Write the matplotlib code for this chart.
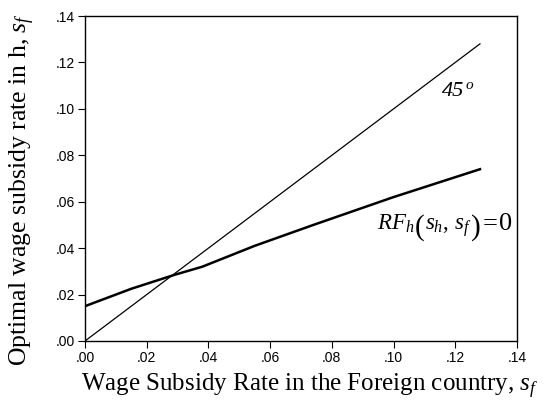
import matplotlib
matplotlib.use('Agg')
import matplotlib.pyplot as plt
from matplotlib.transforms import offset_copy

# data
sf_vals = [0.0, 0.015, 0.029, 0.038, 0.055, 0.074, 0.100, 0.128]
rf_vals = [0.015, 0.0225, 0.0285, 0.032, 0.041, 0.050, 0.062, 0.074]
diag_x = [0.0, 0.128]
diag_y = [0.0, 0.128]
tick_vals = [0.00, 0.02, 0.04, 0.06, 0.08, 0.10, 0.12, 0.14]
tick_labels = ['.00', '.02', '.04', '.06', '.08', '.10', '.12', '.14']

plt.rcParams['mathtext.fontset'] = 'custom'
plt.rcParams['mathtext.rm'] = 'Liberation Serif'
plt.rcParams['mathtext.it'] = 'Liberation Serif:italic'

fig = plt.figure(figsize=(5.49, 4.01), dpi=100)
ax = fig.add_axes([85 / 549, 60 / 401, 432 / 549, 325 / 401])

ax.plot(diag_x, diag_y, color='black', lw=0.9)
ax.plot(sf_vals, rf_vals, color='black', lw=1.8)

ax.set_xlim(0, 0.14)
ax.set_ylim(0, 0.14)
ax.set_xticks(tick_vals)
ax.set_xticklabels(tick_labels)
ax.set_yticks(tick_vals)
ax.set_yticklabels(tick_labels)
ax.tick_params(direction='out', length=5, width=0.8, labelsize=10, pad=2)
for lab in ax.get_xticklabels() + ax.get_yticklabels():
    lab.set_family('Liberation Sans')
for sp in ax.spines.values():
    sp.set_linewidth(1.0)

renderer = fig.canvas.get_renderer()


def put_pieces(x0, y0, pieces):
    '''Lays text pieces left to right from a data point, using measured widths.'''
    cur = 0
    for txt, gap, dy, fs, style in pieces:
        cur += gap
        tr = offset_copy(ax.transData, fig=fig, x=cur, y=dy, units='dots')
        t = ax.text(x0, y0, txt, transform=tr, fontsize=fs, family='Liberation Serif',
                    style=style, ha='left', va='baseline')
        cur += t.get_window_extent(renderer).width


# 45 degree label
put_pieces(0.1158, 0.1055, [
    ('45', 0, 0, 16, 'italic'),
    ('o', 0.5, 7, 11, 'italic'),
])

# RF label, parentheses drawn bigger than the rest
put_pieces(0.0946, 0.0478, [
    (r'$RF_h$', 0, 0, 16.5, 'normal'),
    ('(', 0.5, -5, 21, 'normal'),
    (r'$s_h,\,s_f$', 0, 0, 16.5, 'normal'),
    (')', 0, -5, 21, 'normal'),
    ('=', 2, 0, 19, 'normal'),
    ('0', 1, 0, 19, 'normal'),
])

ax.set_xlabel(r'Wage Subsidy Rate in the Foreign country, $s_f$',
              family='Liberation Serif', fontsize=18)
ax.set_ylabel(r'Optimal wage subsidy rate in h, $s_f$',
              family='Liberation Serif', fontsize=18.5)
ax.xaxis.set_label_coords(0.52, -0.095)
ax.yaxis.set_label_coords(-0.11, 0.465)

fig.savefig('out.png', dpi=100)
